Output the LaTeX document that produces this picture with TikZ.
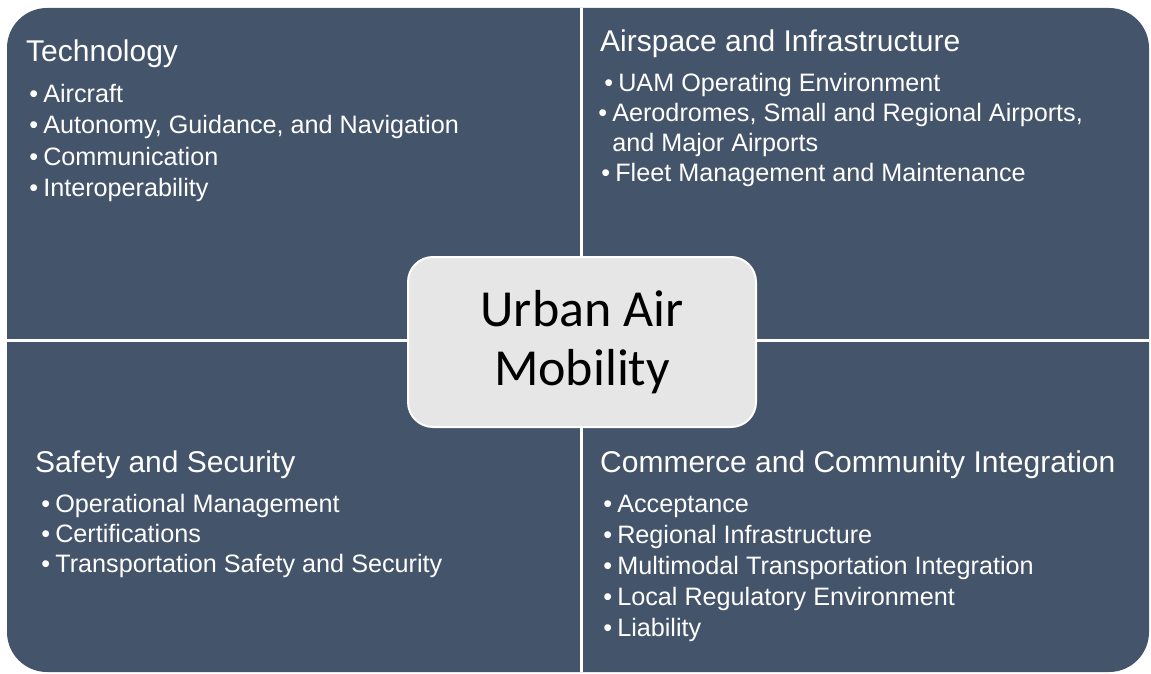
\documentclass[tikz,border=0pt]{standalone}
\usepackage{fontspec}
\setmainfont{Liberation Sans}
\newfontfamily\hubfont{Carlito}
\definecolor{quadfill}{HTML}{44546A}
\definecolor{hubfill}{HTML}{E7E6E6}
\newcommand\itm[1][5]{\textbullet\hspace{#1pt}}
\tikzset{
  quadtitle/.style={text=white, inner sep=0pt, anchor=base west, font=\fontsize{30}{36}\selectfont},
  quaditem/.style={text=white, inner sep=0pt, anchor=base west, align=left, font=\fontsize{25.2}{30}\selectfont},
  hubbox/.style={draw=white, line width=2pt, fill=hubfill, rounded corners=25pt,
    minimum width=348pt, minimum height=170pt, align=center, text=black,
    font=\hubfont\fontsize{52}{59}\selectfont},
  divider/.style={white, line width=2.5pt}
}
\begin{document}
\begin{tikzpicture}[x=1pt,y=-1pt]
\useasboundingbox (0,0) rectangle (1151,674);
% quadrants
\fill[quadfill, rounded corners=40pt] (7,8) rectangle (1149,672);
\draw[divider] (581.5,8) -- (581.5,672);
\draw[divider] (7,340.5) -- (1149,340.5);
% hub
\node[hubbox] (hub) at (582,342) {Urban Air\\Mobility};
% top left
\node[quadtitle] (tech) at (26,62) {Technology};
\node[quaditem] (tech1) at (29.25,103) {\itm Aircraft};
\node[quaditem] (tech2) at (29.25,134) {\itm Autonomy, Guidance, and Navigation};
\node[quaditem] (tech3) at (29.25,165) {\itm Communication};
\node[quaditem] (tech4) at (29.25,196) {\itm Interoperability};
% top right
\node[quadtitle] (air) at (600,52) {Airspace and Infrastructure};
\node[quaditem] (air1) at (604.25,92) {\itm UAM Operating Environment};
\node[quaditem] (air2) at (598.25,151) {\itm Aerodromes, Small and Regional Airports,\\\hphantom{\itm}and Major Airports};
\node[quaditem] (air3) at (601.25,181) {\itm Fleet Management and Maintenance};
% bottom left
\node[quadtitle] (safe) at (35,472) {Safety and Security};
\node[quaditem] (safe1) at (41.25,512) {\itm Operational Management};
\node[quaditem] (safe2) at (41.25,542) {\itm Certifications};
\node[quaditem] (safe3) at (41.25,572) {\itm Transportation Safety and Security};
% bottom right
\node[quadtitle] (comm) at (600,472) {Commerce and Community Integration};
\node[quaditem] (comm1) at (603.25,512) {\itm Acceptance};
\node[quaditem] (comm2) at (603.25,543) {\itm Regional Infrastructure};
\node[quaditem] (comm3) at (603.25,574) {\itm Multimodal Transportation Integration};
\node[quaditem] (comm4) at (603.25,605) {\itm Local Regulatory Environment};
\node[quaditem] (comm5) at (603.25,636) {\itm Liability};
\end{tikzpicture}
\end{document}
